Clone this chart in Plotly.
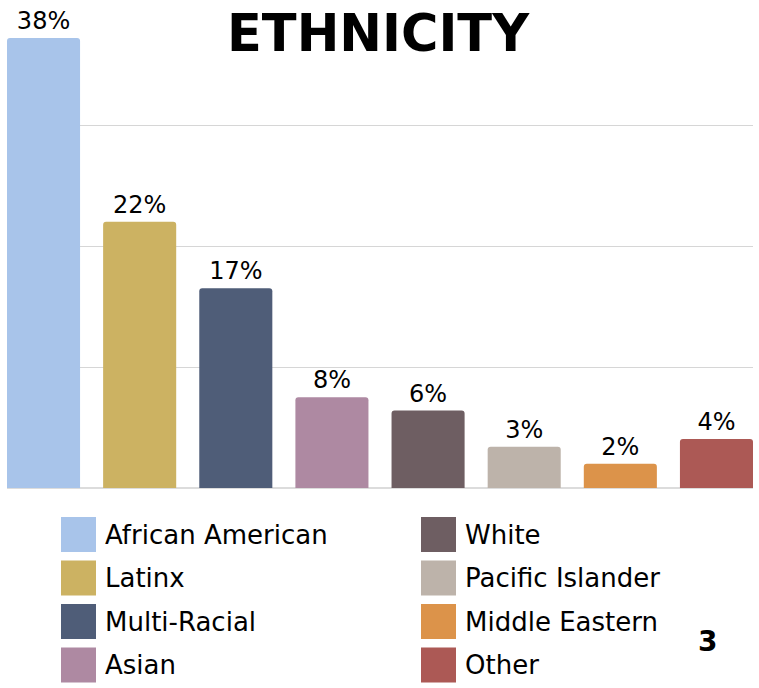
import plotly.graph_objects as go

categories = ["African American", "Latinx", "Multi-Racial", "Asian",
              "White", "Pacific Islander", "Middle Eastern", "Other"]
values = [37.2, 22.0, 16.5, 7.5, 6.4, 3.4, 2.0, 4.05]
labels = ["38%", "22%", "17%", "8%", "6%", "3%", "2%", "4%"]
colors = ["#a8c4ea", "#ccb262", "#4f5d78", "#ae89a2",
          "#6e5e62", "#bdb3aa", "#dc934a", "#ac5955"]
grid_ticks = [10, 20, 30]

W, H = 759, 688
FONT = "DejaVu Sans"

fig = go.Figure()
fig.add_trace(go.Bar(
    x=list(range(len(categories))),
    y=values,
    width=0.76,
    marker=dict(color=colors, line=dict(width=0)),
    text=labels,
    textposition="outside",
    textfont=dict(family=FONT, size=24, color="black"),
    cliponaxis=False,
    showlegend=False,
    hovertext=categories,
))

shapes = []
annotations = []

# Title
annotations.append(dict(
    text="<b>ETHNICITY</b>", x=378 / W, y=(H - 34) / H, xref="paper", yref="paper",
    xanchor="center", yanchor="middle", showarrow=False,
    font=dict(family=FONT, size=51, color="black"),
))

# Custom two-column legend
sq = 35
col_x = [61, 421]
row_top0 = 517
row_step = 43.5
for i, (name, col) in enumerate(zip(categories, colors)):
    c, r = divmod(i, 4)
    x0 = col_x[c]
    y0 = row_top0 + r * row_step
    shapes.append(dict(
        type="rect", xref="paper", yref="paper",
        x0=x0 / W, x1=(x0 + sq) / W,
        y0=(H - y0) / H, y1=(H - y0 - sq) / H,
        fillcolor=col, line=dict(width=0), layer="above",
    ))
    annotations.append(dict(
        text=name, x=(x0 + sq + 7) / W, y=(H - y0 - sq / 2) / H,
        xref="paper", yref="paper", xanchor="left", yanchor="middle",
        showarrow=False, font=dict(family=FONT, size=26, color="black"),
    ))

# Page number
annotations.append(dict(
    text="<b>3</b>", x=707 / W, y=(H - 641) / H, xref="paper", yref="paper",
    xanchor="center", yanchor="middle", showarrow=False,
    font=dict(family=FONT, size=28, color="black"),
))

fig.update_layout(
    width=W, height=H,
    margin=dict(l=0, r=0, t=0, b=0),
    paper_bgcolor="white", plot_bgcolor="white",
    bargap=0.24,
    barcornerradius=3,
    xaxis=dict(range=[-0.38, 7.38], domain=[7 / W, 753 / W],
               showticklabels=False, showgrid=False, zeroline=False,
               showline=False, ticks="", fixedrange=True),
    yaxis=dict(range=[0, 40], domain=[(H - 488) / H, (H - 4) / H],
               tickvals=grid_ticks, showticklabels=False,
               showgrid=True, gridcolor="#d6d6d6", gridwidth=1,
               zeroline=True, zerolinecolor="#dcdcdc", zerolinewidth=2,
               showline=False, ticks="", fixedrange=True),
    shapes=shapes,
    annotations=annotations,
    font=dict(family=FONT),
)

fig.write_html("out.html",
               config={"displayModeBar": False},
               post_script="document.body.style.margin='0';document.body.style.padding='0';")
